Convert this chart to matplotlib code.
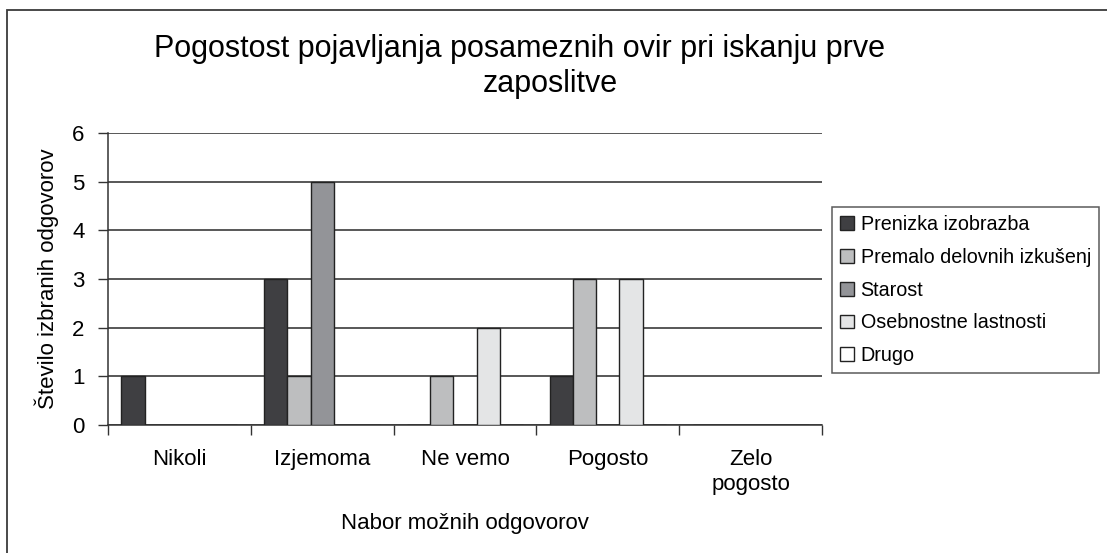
import numpy as np
import matplotlib
matplotlib.use("Agg")
import matplotlib.pyplot as plt
from matplotlib.patches import Rectangle

plt.rcParams["font.family"] = ["Liberation Sans", "DejaVu Sans"]

categories = ["Nikoli", "Izjemoma", "Ne vemo", "Pogosto", "Zelo\npogosto"]
series_names = ["Prenizka izobrazba", "Premalo delovnih izkušenj", "Starost",
                "Osebnostne lastnosti", "Drugo"]
prenizka = [1, 3, 0, 1, 0]
premalo = [0, 1, 1, 3, 0]
starost = [0, 5, 0, 0, 0]
osebnostne = [0, 0, 2, 3, 0]
drugo = [0, 0, 0, 0, 0]
colors = ["#3f3f42", "#bdbebf", "#939498", "#e4e5e6", "#ffffff"]

fig = plt.figure(figsize=(11.07, 5.53), dpi=100)
ax = fig.add_axes([108 / 1107, 1 - 425 / 553, (822 - 108) / 1107, (425 - 133) / 553])

# outer frame (only left/top edges visible in the original)
fig.patches.append(Rectangle((7 / 1107, -0.1), 1.2, 1 - 10 / 553 + 0.1,
                             transform=fig.transFigure, fill=False,
                             edgecolor="#3a3a3a", linewidth=1.3))

x = np.arange(len(categories)) + 0.5
w = 1 / 6.15
data = [prenizka, premalo, starost, osebnostne, drugo]
for i, (vals, name, c) in enumerate(zip(data, series_names, colors)):
    ax.bar(x + (i - 2) * w, vals, width=w, color=c, edgecolor="#222222",
           linewidth=1.0, label=name, zorder=3)

ax.set_xlim(0, 5)
ax.set_ylim(0, 6)
ax.set_yticks(range(7))
ax.set_xticks(x)
ax.set_xticklabels(categories, fontsize=16, linespacing=1.25)
ax.set_xticks(range(6), minor=True)
ax.tick_params(axis="x", which="major", length=0, pad=17)
ax.tick_params(axis="x", which="minor", length=7, width=1, color="#333333")
ax.tick_params(axis="y", length=7, width=1, color="#333333", labelsize=16, pad=10)
ax.yaxis.grid(True, color="#2a2a2a", linewidth=1.1, zorder=0)
ax.set_axisbelow(True)
for s in ["top", "right"]:
    ax.spines[s].set_visible(False)
for s in ["left", "bottom"]:
    ax.spines[s].set_color("#333333")
    ax.spines[s].set_linewidth(1.1)

ax.set_ylabel("Število izbranih odgovorov", fontsize=16, labelpad=9)
ax.set_xlabel("Nabor možnih odgovorov", fontsize=16, labelpad=13)

fig.text(519 / 1107, 1 - 49 / 553, "Pogostost pojavljanja posameznih ovir pri iskanju prve",
         fontsize=22, ha="center", va="center")
fig.text(550 / 1107, 1 - 84 / 553, "zaposlitve", fontsize=22, ha="center", va="center")

leg = ax.legend(loc="upper left", bbox_to_anchor=(832 / 1107, 1 - 207 / 553),
                bbox_transform=fig.transFigure, fontsize=14.2, frameon=True,
                fancybox=False, edgecolor="#333333", handlelength=0.7,
                handleheight=0.7, handletextpad=0.35, labelspacing=0.7,
                borderpad=0.4, borderaxespad=0)
leg.get_frame().set_linewidth(1.1)

fig.savefig("out.png", dpi=100)
